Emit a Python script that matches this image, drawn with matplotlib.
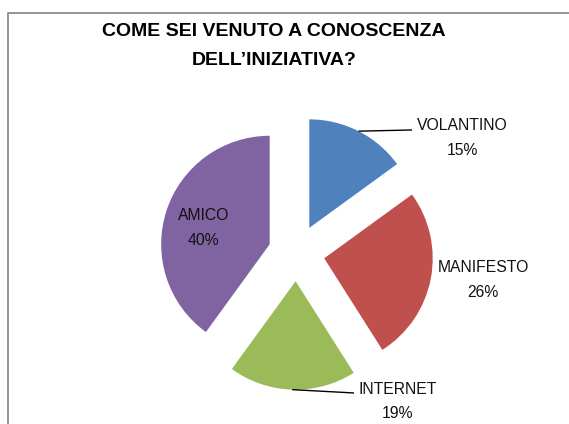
import numpy as np
import matplotlib.pyplot as plt

# survey answers
labels = ['VOLANTINO', 'MANIFESTO', 'INTERNET', 'AMICO']
values = [15, 26, 19, 40]
colors = ['#4F81BD', '#C0504D', '#9BBB59', '#8064A2']
title = 'COME SEI VENUTO A CONOSCENZA\nDELL\u2019INIZIATIVA?'

plt.rcParams['font.family'] = ['Liberation Sans', 'DejaVu Sans']

W, H = 569, 424
fig = plt.figure(figsize=(W / 100, H / 100), dpi=100)

# background axes in pixel units for the frame
bg = fig.add_axes([0, 0, 1, 1])
bg.set_xlim(0, W)
bg.set_ylim(0, H)
bg.axis('off')
bg.plot([8.5, 8.5, W + 5], [-5, H - 13, H - 13], color='#8c8c8c', lw=1.3)

fig.text(274 / W, 1 - 46 / H, title, ha='center', va='center',
         fontsize=14, fontweight='bold', linespacing=1.95)

# pie axes: 1 data unit = 108.5 px, centre at (296.5, 171) px
r_px = 108.5
cx, cy = 296.5, H - 253
half = 1.5 * r_px
ax = fig.add_axes([(cx - half) / W, (cy - half) / H, 2 * half / W, 2 * half / H])
ax.set_xlim(-1.5, 1.5)
ax.set_ylim(-1.5, 1.5)
ax.set_aspect('equal')
ax.axis('off')

wedges, _ = ax.pie(values, colors=colors, startangle=90, counterclock=False,
                   explode=[0.26] * len(values), radius=1,
                   wedgeprops=dict(linewidth=0))
ax.set_xlim(-1.5, 1.5)
ax.set_ylim(-1.5, 1.5)

# label placement (pie units) and whether a leader line is drawn
label_pos = [(1.525, 1.06), (1.72, -0.25), (0.935, -1.37), (-0.86, 0.23)]
line_end = [(1.065, 1.134), None, (0.53, -1.29), None]

for w, lab, v, pos, le in zip(wedges, labels, values, label_pos, line_end):
    ax.text(pos[0], pos[1], f'{lab}\n{v}%', ha='center', va='center',
            fontsize=11.3, linespacing=1.8, color='#111111')
    if le is not None:
        th = np.deg2rad((w.theta1 + w.theta2) / 2)
        x0 = w.center[0] + w.r * np.cos(th)
        y0 = w.center[1] + w.r * np.sin(th)
        ax.plot([x0, le[0]], [y0, le[1]], color='black', lw=1.0,
                solid_capstyle='butt', clip_on=False)

fig.savefig('out.png', dpi=100)
